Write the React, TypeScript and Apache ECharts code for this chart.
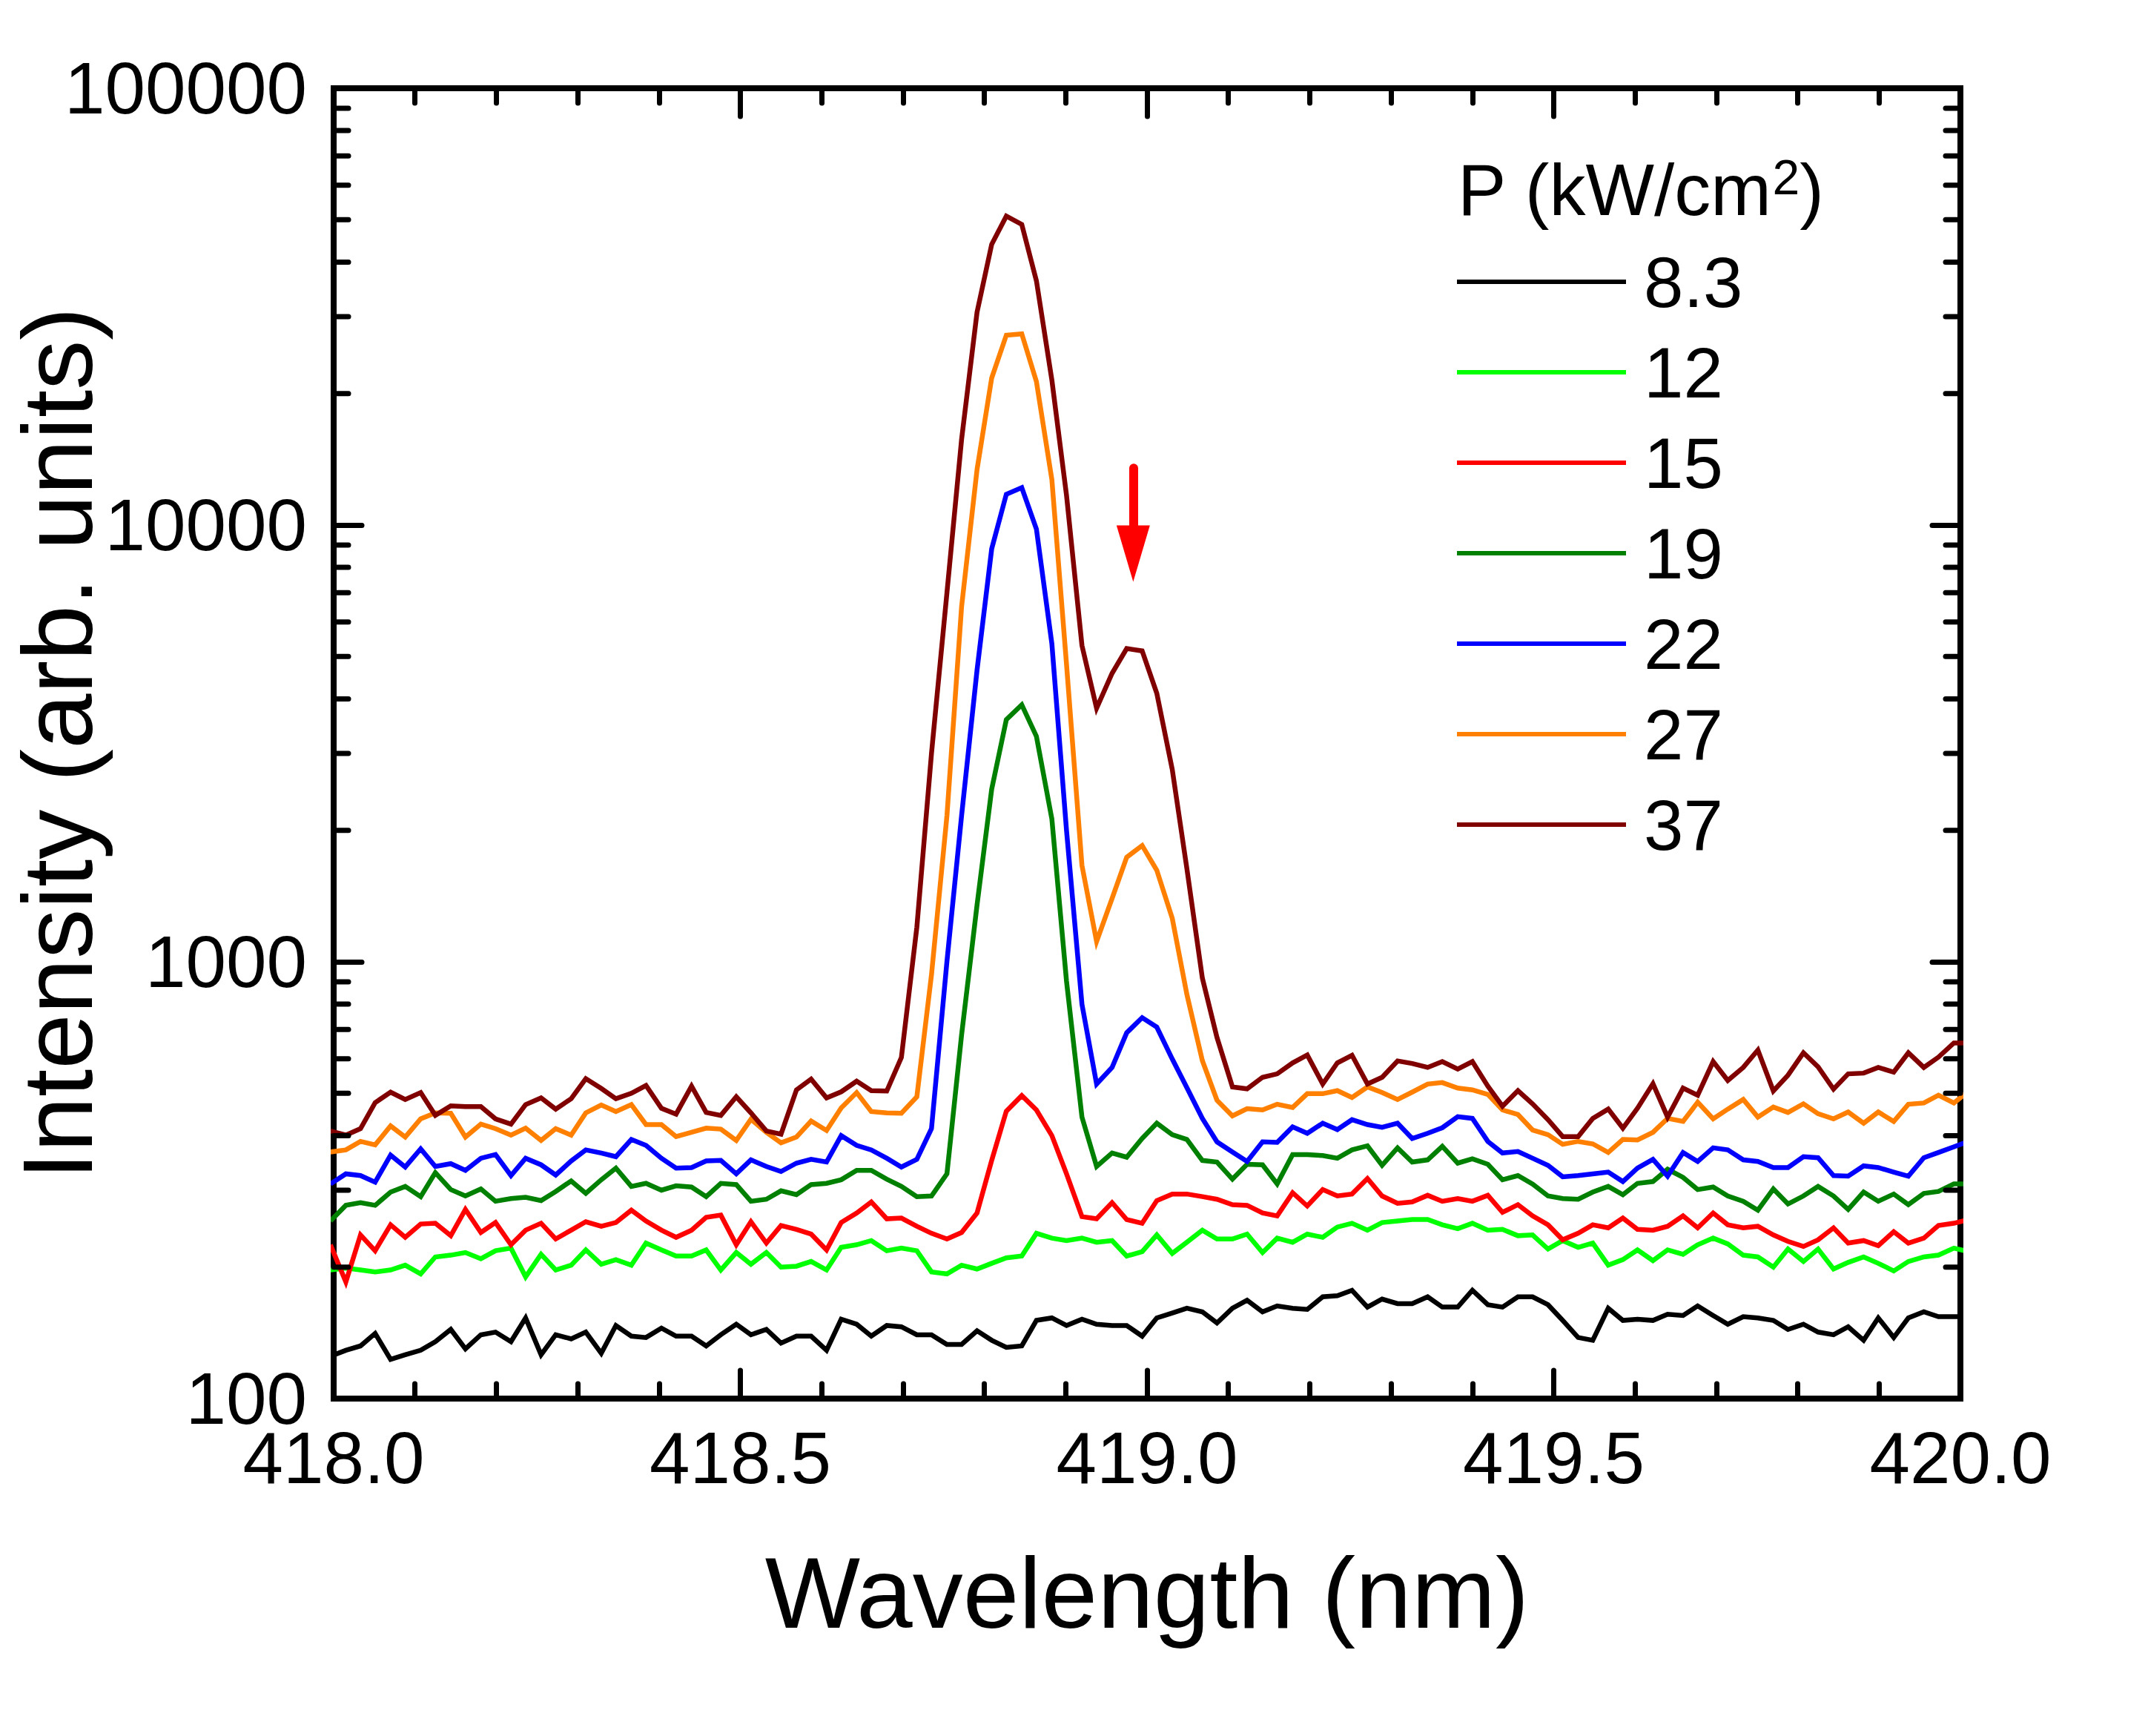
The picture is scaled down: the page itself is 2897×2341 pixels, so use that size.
import React, { useEffect, useRef } from "react";
import * as echarts from "echarts";

// ---------------- data ----------------
const wavelength = [
  417.996, 418.015, 418.033, 418.051, 418.070, 418.088, 418.107, 418.125, 418.144, 418.162,
  418.181, 418.199, 418.218, 418.236, 418.255, 418.273, 418.292, 418.310, 418.329, 418.347,
  418.366, 418.384, 418.403, 418.421, 418.440, 418.458, 418.476, 418.495, 418.513, 418.532,
  418.550, 418.569, 418.587, 418.606, 418.624, 418.643, 418.661, 418.680, 418.698, 418.717,
  418.735, 418.754, 418.772, 418.791, 418.809, 418.827, 418.846, 418.864, 418.883, 418.901,
  418.920, 418.938, 418.957, 418.975, 418.994, 419.012, 419.031, 419.049, 419.068, 419.086,
  419.105, 419.123, 419.142, 419.160, 419.179, 419.197, 419.216, 419.234, 419.252, 419.271,
  419.289, 419.308, 419.326, 419.345, 419.363, 419.382, 419.400, 419.419, 419.437, 419.456,
  419.474, 419.493, 419.511, 419.530, 419.548, 419.567, 419.585, 419.603, 419.622, 419.640,
  419.659, 419.677, 419.696, 419.714, 419.733, 419.751, 419.770, 419.788, 419.807, 419.825,
  419.844, 419.862, 419.881, 419.899, 419.918, 419.936, 419.955, 419.973, 419.992, 420.010,
];

const p8_3 = [
  125, 129, 132, 141, 123, 126, 129, 135, 144, 130,
  140, 142, 135, 153, 126, 140, 137, 142, 127, 147,
  139, 138, 145, 139, 139, 132, 140, 148, 140, 144,
  134, 139, 139, 129, 152, 148, 139, 147, 146, 140,
  140, 133, 133, 143, 136, 131, 132, 151, 153, 147,
  152, 148, 147, 147, 139, 153, 157, 161, 158, 149,
  161, 168, 158, 163, 161, 160, 171, 172, 177, 162,
  169, 165, 165, 171, 162, 162, 177, 164, 162, 171,
  171, 164, 151, 138, 136, 161, 151, 152, 151, 156,
  155, 163, 155, 148, 154, 153, 151, 144, 148, 142,
  140, 146, 136, 153, 138, 153, 158, 154, 154, 154,
];

const p12 = [
  197, 199, 197, 195, 197, 202, 193, 211, 213, 216,
  209, 218, 221, 190, 214, 197, 202, 219, 203, 208,
  202, 227, 219, 212, 212, 219, 197, 216, 203, 216,
  200, 201, 206, 197, 222, 225, 230, 218, 221, 218,
  195, 193, 202, 198, 204, 210, 212, 239, 233, 230,
  233, 228, 230, 212, 217, 237, 215, 228, 243, 232,
  232, 238, 216, 233, 228, 238, 234, 247, 252, 243,
  253, 255, 257, 257, 250, 245, 252, 243, 244, 236,
  237, 220, 230, 222, 227, 202, 208, 219, 207, 219,
  214, 225, 233, 226, 213, 211, 200, 220, 206, 220,
  198, 205, 211, 204, 196, 206, 211, 213, 221, 217,
];

const p15 = [
  225, 185, 237, 218, 250, 234, 251, 252, 236, 271,
  240, 253, 225, 243, 252, 232, 243, 254, 248, 253,
  270, 255, 243, 234, 243, 260, 263, 225, 254, 227,
  249, 244, 238, 219, 253, 266, 282, 258, 259, 248,
  239, 232, 240, 266, 351, 455, 494, 458, 400, 327,
  261, 258, 281, 257, 252, 284, 294, 294, 290, 286,
  278, 277, 266, 262, 296, 276, 301, 291, 294, 319,
  291, 280, 282, 292, 283, 287, 283, 292, 267, 278,
  262, 250, 231, 239, 250, 246, 259, 244, 243, 248,
  262, 246, 266, 250, 246, 248, 237, 229, 223, 231,
  246, 227, 230, 224, 241, 227, 233, 249, 252, 257,
];

const p19 = [
  255, 277, 281, 277, 297, 306, 290, 329, 301, 291,
  302, 283, 287, 289, 284, 298, 315, 295, 317, 337,
  306, 311, 300, 307, 305, 290, 311, 309, 283, 286,
  299, 293, 309, 311, 317, 333, 333, 318, 306, 290,
  291, 327, 680, 1349, 2484, 3584, 3876, 3283, 2123, 903,
  441, 340, 365, 357, 394, 427, 402, 392, 351, 348,
  318, 344, 343, 310, 362, 362, 360, 355, 371, 379,
  342, 375, 348, 352, 378, 346, 354, 344, 317, 324,
  310, 291, 287, 286, 297, 306, 293, 311, 314, 335,
  321, 301, 305, 291, 283, 270, 302, 279, 291, 306,
  291, 271, 297, 283, 294, 278, 295, 298, 310, 310,
];

const p22 = [
  310, 327, 324, 313, 361, 339, 373, 340, 345, 333,
  355, 362, 324, 355, 343, 325, 350, 371, 365, 358,
  392, 380, 355, 337, 338, 350, 351, 327, 352, 340,
  331, 346, 353, 348, 400, 380, 371, 355, 339, 353,
  415, 1002, 2160, 4656, 8816, 11760, 12180, 9791, 5350, 2000,
  799, 525, 573, 688, 745, 709, 599, 515, 438, 387,
  367, 349, 387, 386, 419, 405, 427, 413, 435, 424,
  418, 427, 394, 405, 417, 442, 438, 388, 365, 368,
  355, 342, 322, 324, 327, 330, 314, 337, 353, 323,
  366, 349, 375, 371, 352, 349, 338, 338, 358, 356,
  324, 323, 341, 338, 330, 323, 356, 366, 377, 388,
];

const p27 = [
  367, 371, 388, 381, 421, 397, 437, 451, 450, 397,
  425, 415, 401, 416, 390, 415, 401, 451, 470, 454,
  471, 424, 424, 398, 407, 416, 414, 390, 436, 407,
  385, 397, 432, 411, 463, 502, 454, 451, 450, 491,
  934, 2160, 6500, 13400, 21700, 27200, 27400, 21300, 12700, 4800,
  1662, 1113, 1396, 1736, 1846, 1620, 1258, 842, 594, 482,
  444, 461, 458, 472, 464, 499, 499, 507, 489, 517,
  502, 484, 503, 525, 529, 514, 509, 497, 458, 447,
  412, 402, 382, 388, 383, 366, 392, 391, 407, 438,
  431, 477, 437, 460, 484, 441, 465, 452, 473, 449,
  437, 453, 427, 453, 431, 472, 475, 495, 475, 506,
];

const p37 = [
  410, 401, 415, 476, 503, 484, 502, 445, 468, 466,
  466, 437, 425, 471, 488, 460, 486, 540, 513, 486,
  500, 521, 462, 448, 519, 452, 445, 491, 451, 410,
  403, 509, 539, 488, 504, 533, 507, 506, 604, 1200,
  3000, 7000, 15700, 30700, 43900, 50950, 48770, 36250, 21470, 11700,
  5300, 3808, 4576, 5213, 5151, 4120, 2757, 1634, 918, 671,
  517, 512, 544, 554, 587, 612, 525, 587, 611, 525,
  544, 593, 585, 573, 591, 568, 591, 519, 467, 507,
  473, 435, 398, 398, 438, 460, 416, 462, 526, 441,
  514, 495, 591, 535, 573, 628, 506, 550, 619, 575,
  511, 554, 556, 573, 559, 619, 573, 605, 652, 652,
];

const seriesNames = ["8.3", "12", "15", "19", "22", "27", "37"];
const seriesValues = [p8_3, p12, p15, p19, p22, p27, p37];
const seriesColors = ["#000000", "#00ff00", "#ff0000", "#008000", "#0000ff", "#ff8000", "#800000"];

const xTickLabels = ["418.0", "418.5", "419.0", "419.5", "420.0"];
const yTickLabels = ["100", "1000", "10000", "100000"];
const yMinorTickValues = [
  200, 300, 400, 500, 600, 700, 800, 900,
  2000, 3000, 4000, 5000, 6000, 7000, 8000, 9000,
  20000, 30000, 40000, 50000, 60000, 70000, 80000, 90000,
];

// red arrow marking the second peak
const arrowWavelength = 418.983;
const arrowFrom = 13500;
const arrowTo = 8600;

const FONT = '"Liberation Sans", Arial, Helvetica, sans-serif';

export default function App() {
  const ref = useRef<HTMLDivElement | null>(null);

  useEffect(() => {
    if (!ref.current) return;
    const chart = echarts.init(ref.current, null, { renderer: "svg" });

    const axisLine = { show: true, onZero: false, lineStyle: { color: "#000", width: 8, cap: "square" } };
    const axisTick = { show: true, inside: true, length: 38, lineStyle: { color: "#000", width: 7, cap: "round" } };
    const xMinor = { show: true, splitNumber: 5, length: 20, lineStyle: { color: "#000", width: 7, cap: "round" } };

    const lineSeries: any[] = seriesNames.map((name, i) => ({
      type: "line",
      name,
      xAxisIndex: 0,
      yAxisIndex: 0,
      data: wavelength.map((w, j) => [w, seriesValues[i][j]]),
      showSymbol: false,
      symbol: "none",
      clip: true,
      silent: true,
      z: 3 + i,
      color: seriesColors[i],
      itemStyle: { color: seriesColors[i] },
      lineStyle: { color: seriesColors[i], width: 6.5, join: "miter" },
    }));

    lineSeries[lineSeries.length - 1].markLine = {
      silent: true,
      symbol: ["none", "triangle"],
      symbolSize: [45, 76],
      label: { show: false },
      emphasis: { disabled: true },
      lineStyle: { color: "#ff0000", width: 12, type: "solid", cap: "round" },
      itemStyle: { color: "#ff0000" },
      data: [[{ coord: [arrowWavelength, arrowFrom] }, { coord: [arrowWavelength, arrowTo] }]],
    };

    const minorTickSeries = {
      type: "custom",
      coordinateSystem: "cartesian2d",
      xAxisIndex: 0,
      yAxisIndex: 0,
      silent: true,
      clip: false,
      z: 20,
      data: yMinorTickValues.map((v) => [418, v]),
      renderItem: (params: any, api: any) => {
        const v = api.value(1);
        const pL = api.coord([418, v]);
        const pR = api.coord([420, v]);
        return {
          type: "group",
          children: [
            { type: "line", shape: { x1: pL[0], y1: pL[1], x2: pL[0] + 20, y2: pL[1] }, style: { stroke: "#000", lineWidth: 7, lineCap: "round" } },
            { type: "line", shape: { x1: pR[0], y1: pR[1], x2: pR[0] - 20, y2: pR[1] }, style: { stroke: "#000", lineWidth: 7, lineCap: "round" } },
          ],
        };
      },
    };

    const option: any = {
      animation: false,
      backgroundColor: "#ffffff",
      grid: { left: 450, right: 253, top: 119, bottom: 455, containLabel: false, outerBoundsMode: "none" },
      title: {
        text: "P (kW/cm{sup|2})",
        left: 1966,
        top: 206,
        padding: 0,
        textStyle: {
          fontFamily: FONT,
          fontSize: 98,
          fontWeight: "normal",
          color: "#000",
          lineHeight: 100,
          rich: {
            sup: { fontFamily: FONT, fontSize: 66, color: "#000", verticalAlign: "top", lineHeight: 20 },
          },
        },
      },
      legend: {
        orient: "vertical",
        left: 1965,
        top: 330,
        padding: 0,
        itemGap: 22,
        itemWidth: 228,
        itemHeight: 6,
        icon: "rect",
        selectedMode: false,
        data: seriesNames,
        textStyle: { fontFamily: FONT, fontSize: 96, color: "#000", lineHeight: 100, padding: [0, 0, 0, 19] },
      },
      xAxis: [
        {
          type: "value",
          position: "bottom",
          min: 418,
          max: 420,
          interval: 0.5,
          axisLine,
          axisTick,
          minorTick: xMinor,
          splitLine: { show: false },
          minorSplitLine: { show: false },
          axisLabel: {
            show: true,
            margin: 44,
            fontFamily: FONT,
            fontSize: 98,
            color: "#000",
            lineHeight: 72,
            showMinLabel: true,
            showMaxLabel: true,
            formatter: (v: number) => xTickLabels[Math.round((v - 418) / 0.5)] ?? v.toFixed(1),
          },
          name: "Wavelength (nm)",
          nameLocation: "middle",
          nameGap: 192,
          nameMoveOverlap: false,
          nameTextStyle: { fontFamily: FONT, fontSize: 136, color: "#000", lineHeight: 140 },
        },
        {
          type: "value",
          position: "top",
          min: 418,
          max: 420,
          interval: 0.5,
          axisLine,
          axisTick,
          minorTick: xMinor,
          splitLine: { show: false },
          minorSplitLine: { show: false },
          axisLabel: { show: false },
        },
      ],
      yAxis: [
        {
          type: "log",
          logBase: 10,
          position: "left",
          min: 100,
          max: 100000,
          axisLine,
          axisTick,
          minorTick: { show: false },
          splitLine: { show: false },
          axisLabel: {
            show: true,
            margin: 36,
            fontFamily: FONT,
            fontSize: 98,
            color: "#000",
            lineHeight: 72,
            showMinLabel: true,
            showMaxLabel: true,
            formatter: (v: number) => yTickLabels[Math.round(Math.log10(v)) - 2] ?? String(Math.round(v)),
          },
          name: "Intensity (arb. units)",
          nameLocation: "middle",
          nameGap: 303,
          nameRotate: 90,
          nameMoveOverlap: false,
          nameTextStyle: { fontFamily: FONT, fontSize: 134, color: "#000", lineHeight: 140 },
        },
        {
          type: "log",
          logBase: 10,
          position: "right",
          min: 100,
          max: 100000,
          axisLine,
          axisTick,
          minorTick: { show: false },
          splitLine: { show: false },
          axisLabel: { show: false },
        },
      ],
      series: [...lineSeries, minorTickSeries],
    };

    chart.setOption(option);
    return () => chart.dispose();
  }, []);

  return (
    <div
      ref={ref}
      style={{ position: "absolute", left: 0, top: 0, width: 2897, height: 2341, background: "#fff" }}
    />
  );
}
